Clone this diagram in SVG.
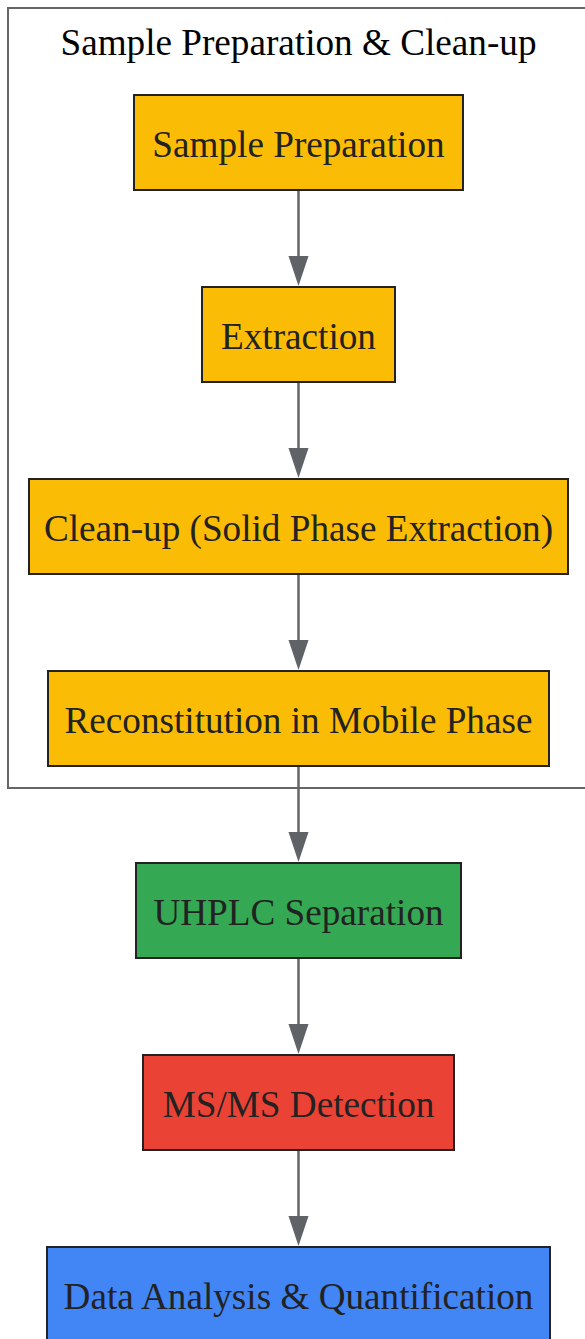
<svg xmlns="http://www.w3.org/2000/svg" width="585" height="1339" viewBox="0 0 585 1339">
<style>
.node rect{stroke:#222;stroke-width:2}
.node text{font-family:"Liberation Serif","Times New Roman",serif;font-size:37.2px;fill:#222;text-anchor:middle}
.title{font-family:"Liberation Serif","Times New Roman",serif;font-size:37.2px;fill:#000;text-anchor:middle}
.edge{stroke:#666;stroke-width:2.5;fill:none}
.head{fill:#5f6368}
.y{fill:#fbbc05}
</style>
<rect width="585" height="1339" fill="#fff"/>
<g id="cluster">
<rect x="8" y="8" width="600" height="780" fill="none" stroke="#666" stroke-width="2"/>
<text class="title" x="298.5" y="55">Sample Preparation &amp; Clean-up</text>
</g>
<g id="connectors">
<line class="edge" x1="298.5" y1="190" x2="298.5" y2="260"/>
<polygon class="head" points="288.5,256 308.5,256 298.5,286"/>
<line class="edge" x1="298.5" y1="382" x2="298.5" y2="452"/>
<polygon class="head" points="288.5,448 308.5,448 298.5,478"/>
<line class="edge" x1="298.5" y1="574" x2="298.5" y2="644"/>
<polygon class="head" points="288.5,640 308.5,640 298.5,670"/>
<line class="edge" x1="298.5" y1="766" x2="298.5" y2="836"/>
<polygon class="head" points="288.5,832 308.5,832 298.5,862"/>
<line class="edge" x1="298.5" y1="958" x2="298.5" y2="1028"/>
<polygon class="head" points="288.5,1024 308.5,1024 298.5,1054"/>
<line class="edge" x1="298.5" y1="1150" x2="298.5" y2="1220"/>
<polygon class="head" points="288.5,1216 308.5,1216 298.5,1246"/>
</g>
<g id="n1" class="node"><rect class="y" x="134" y="95" width="329" height="95"/><text x="298.5" y="156.5">Sample Preparation</text></g>
<g id="n2" class="node"><rect class="y" x="202" y="287" width="193" height="95"/><text x="298.5" y="348.5">Extraction</text></g>
<g id="n3" class="node"><rect class="y" x="29" y="479" width="539" height="95"/><text x="298.5" y="540.5">Clean-up (Solid Phase Extraction)</text></g>
<g id="n4" class="node"><rect class="y" x="48" y="671" width="501" height="95"/><text x="298.5" y="732.5">Reconstitution in Mobile Phase</text></g>
<g id="n5" class="node"><rect fill="#34a853" x="136" y="863" width="325" height="95"/><text x="298.5" y="924.5">UHPLC Separation</text></g>
<g id="n6" class="node"><rect fill="#ea4335" x="143" y="1055" width="311" height="95"/><text x="298.5" y="1116.5">MS/MS Detection</text></g>
<g id="n7" class="node"><rect fill="#4285f4" x="47" y="1247" width="503" height="95"/><text x="298.5" y="1308.5">Data Analysis &amp; Quantification</text></g>
</svg>
